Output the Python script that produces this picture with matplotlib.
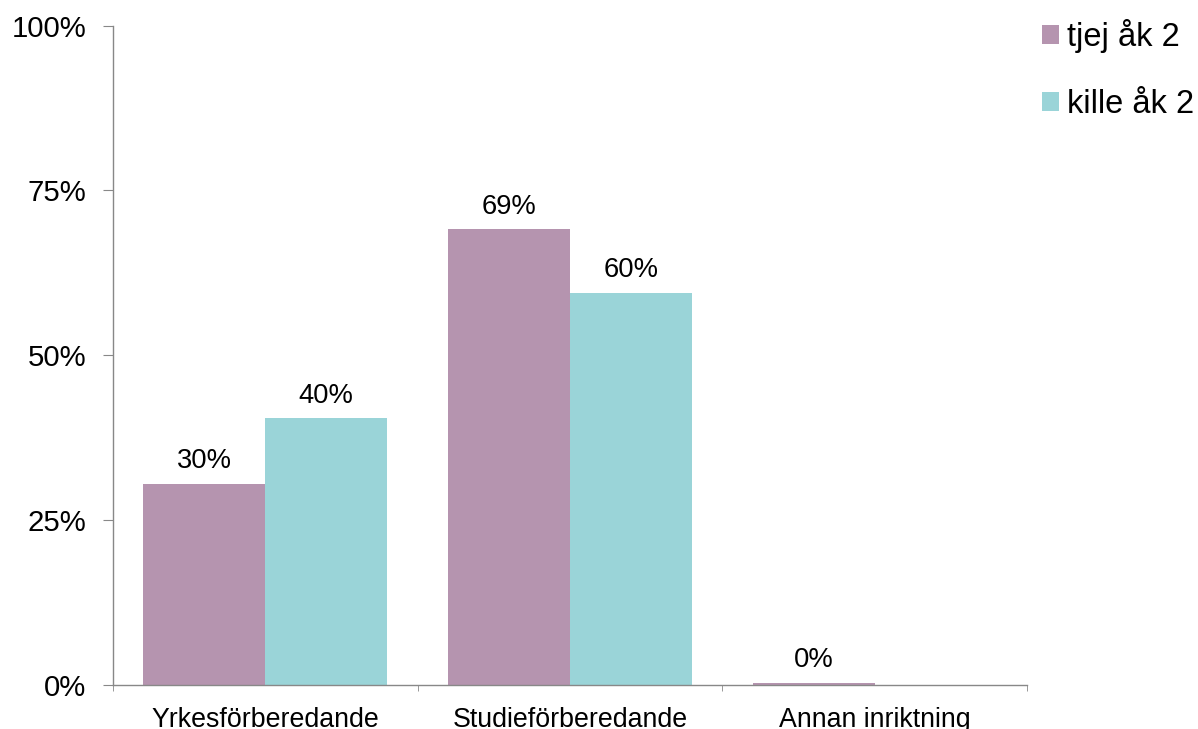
import matplotlib
matplotlib.use("Agg")
import matplotlib.pyplot as plt
import numpy as np
from matplotlib.patches import Patch

plt.rcParams['font.family'] = ['Liberation Sans', 'DejaVu Sans']

categories = ["Yrkesförberedande", "Studieförberedande", "Annan inriktning"]
series_names = ["tjej åk 2", "kille åk 2"]
tjej = [30.5, 69.1, 0.3]
kille = [40.5, 59.5, None]
colors = ["#B594AF", "#9AD4D8"]
yticks = [0, 25, 50, 75, 100]

fig = plt.figure(figsize=(11.98, 7.29), dpi=100)
ax = fig.add_axes([113/1198, 1-684.5/729, (1027-113)/1198, (684.5-25.7)/729])

x = np.arange(len(categories))
w = 0.4
for i, (vals, col) in enumerate(zip([tjej, kille], colors)):
    offs = (i - 0.5) * w
    for xi, v in zip(x, vals):
        if v is None:
            continue
        ax.bar(xi + offs, v, width=w, color=col, edgecolor='none')
        ax.text(xi + offs, v + 2.3, f"{round(v):.0f}%", ha='center', va='baseline', fontsize=19.7)

ax.set_xlim(-0.5, len(categories) - 0.5)
ax.set_ylim(0, 100)
ax.set_yticks(yticks)
ax.set_yticklabels([f"{t}%" for t in yticks], fontsize=21.2)
ax.set_xticks(x)
ax.set_xticklabels(categories, fontsize=19.3)
ax.tick_params(axis='x', length=0, pad=16)
ax.set_xticks(np.arange(-0.5, len(categories)), minor=True)
ax.tick_params(axis='x', which='minor', length=4, color='#888888', direction='out')
ax.tick_params(axis='y', length=7, color='#888888', direction='out', pad=12)
for s in ['top', 'right']:
    ax.spines[s].set_visible(False)
for s in ['left', 'bottom']:
    ax.spines[s].set_color('#888888')
    ax.spines[s].set_linewidth(1.0)

handles = [Patch(facecolor=c, edgecolor='none') for c in colors]
fig.legend(handles, series_names, loc='upper left', bbox_to_anchor=(1042/1198, 1 - 19/729),
           frameon=False, fontsize=23.5, handlelength=0.52, handleheight=0.52,
           handletextpad=0.25, labelspacing=1.1, borderaxespad=0, borderpad=0)

fig.savefig("out.png", dpi=100)
